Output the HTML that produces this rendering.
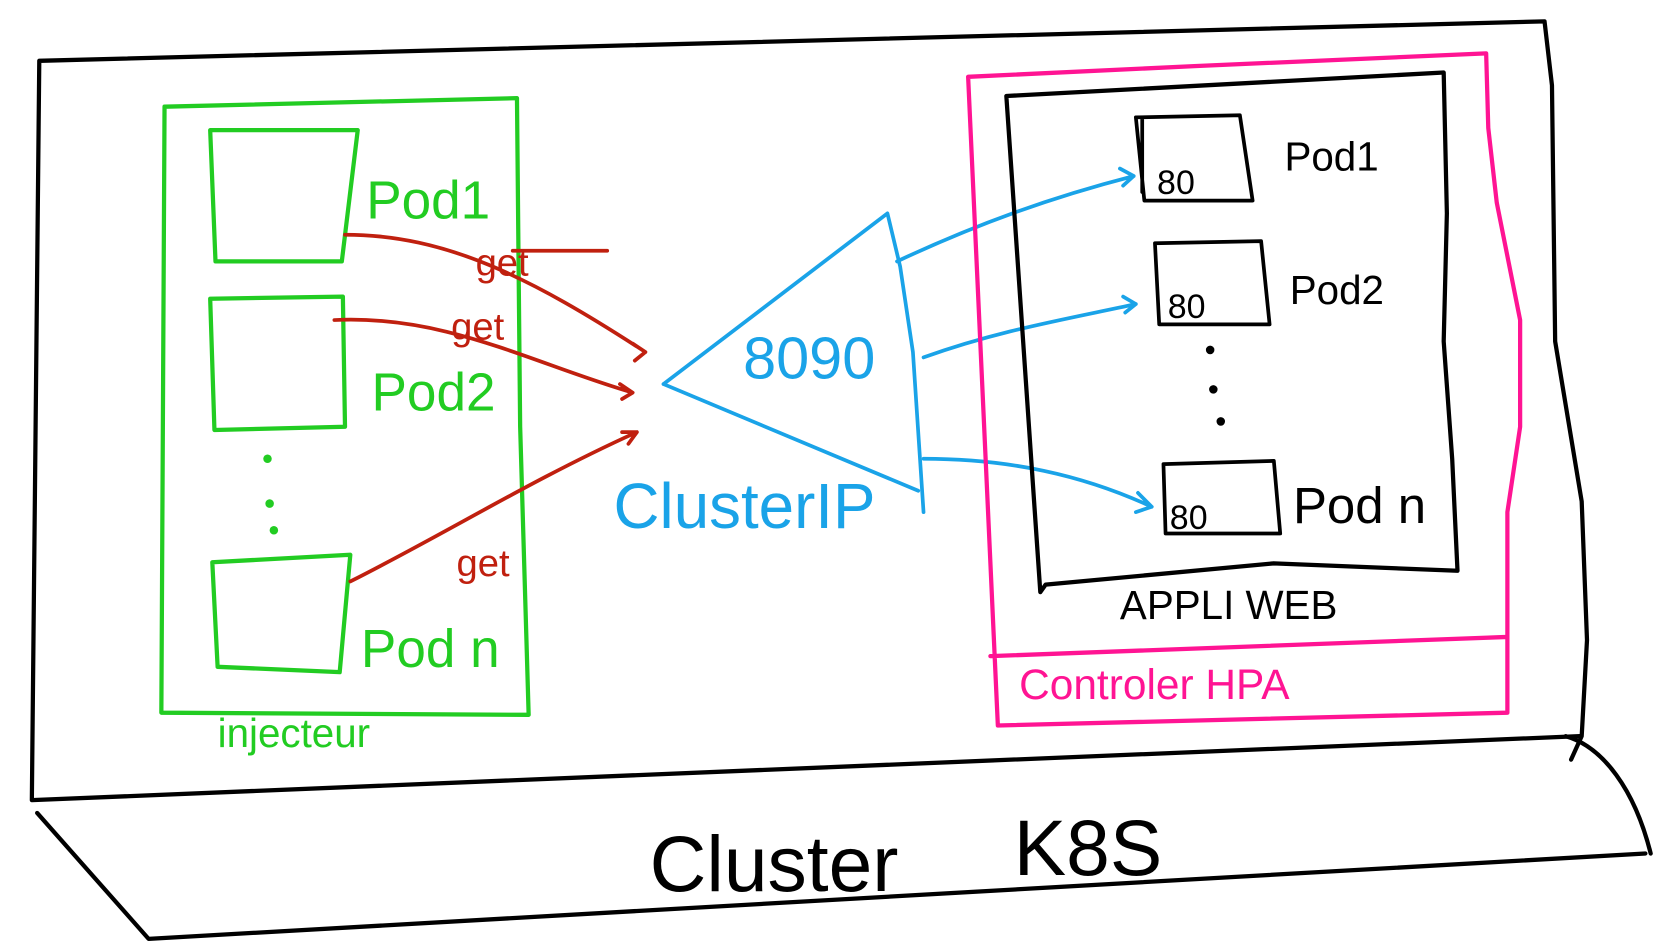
<!DOCTYPE html>
<html><head><meta charset="utf-8"><style>
html,body{margin:0;padding:0;background:#fff;width:1656px;height:941px;overflow:hidden}
svg{display:block}
text{font-family:"Liberation Sans",sans-serif}
</style></head><body>
<svg width="1656" height="941" viewBox="0 0 1560 882" preserveAspectRatio="none" xmlns="http://www.w3.org/2000/svg">
<g fill="none" stroke-linecap="round" stroke-linejoin="round">
<path d="M37,57 L1455,20 L1462,80 L1465,320 L1490,470 L1495,600 L1490,690 L1480,712 M1488,690 L30,750 L37,57" stroke="#000" stroke-width="4"/>
<path d="M35,762 L140,880 L1550,800 M1475,690 C1510,700 1540,740 1555,800" stroke="#000" stroke-width="4"/>
<path d="M155,100 L487,92 L490,400 L498,670 L152,668 Z" stroke="#22cc22" stroke-width="4"/>
<path d="M198,122 L337,122 L322,245 L203,245 Z M198,280 L323,278 L325,400 L202,403 Z M200,527 L330,520 L320,630 L205,625 Z" stroke="#22cc22" stroke-width="4"/>
<g stroke="#c0200f" stroke-width="3.5">
<path d="M325,220 C420,220 500,260 608,330 M596,322 L608,330 L598,338"/>
<path d="M483,235 L572,235"/>
<path d="M315,300 C420,295 500,340 596,368 M584,360 L596,368 L586,374"/>
<path d="M330,545 C420,500 500,450 600,405 M586,405 L600,405 L592,416"/>
</g>
<g stroke="#1aa3e8" stroke-width="3.5">
<path d="M625,360 L836,200 L848,250 L860,330 L870,480 M625,360 L865,460"/>
<path d="M845,245 C920,210 990,185 1068,165 M1055,158 L1068,165 L1058,174"/>
<path d="M870,335 C940,310 1000,300 1070,285 M1058,278 L1070,285 L1060,293"/>
<path d="M870,430 C950,430 1020,445 1085,475 M1072,462 L1085,475 L1070,480"/>
</g>
<path d="M912,72 L1125,62 L1400,50 L1402,120 L1410,190 L1432,300 L1432,400 L1420,480 L1420,668 L940,680 L912,72 M933,615 L1420,597" stroke="#ff1493" stroke-width="4"/>
<path d="M948,90 L1360,68 L1363,200 L1360,320 L1368,430 L1373,535 L1200,528 L985,548 L980,555 L948,90" stroke="#000" stroke-width="4"/>
<path d="M1070,110 L1168,108 L1180,188 L1078,188 Z M1076,112 L1076,180 M1088,228 L1188,226 L1196,304 L1092,304 Z M1096,435 L1200,432 L1206,500 L1098,500 Z" stroke="#000" stroke-width="3.5"/>
</g>
<g fill="#000"><circle cx="1140" cy="328" r="4"/><circle cx="1143" cy="365" r="4"/><circle cx="1150" cy="395" r="4"/></g>
<g fill="#22cc22"><circle cx="252" cy="430" r="4"/><circle cx="254" cy="472" r="4"/><circle cx="258" cy="497" r="4"/></g>
<g fill="#22cc22" font-size="50"><text x="345" y="205">Pod1</text><text x="350" y="385">Pod2</text><text x="340" y="625">Pod n</text><text x="205" y="700" font-size="38">injecteur</text></g>
<g fill="#c0200f" font-size="36"><text x="448" y="258">get</text><text x="425" y="318">get</text><text x="430" y="540">get</text></g>
<g fill="#1aa3e8"><text x="700" y="355" font-size="56">8090</text><text x="578" y="495" font-size="60">ClusterIP</text></g>
<g fill="#000" font-size="38"><text x="1090" y="182" font-size="32">80</text><text x="1100" y="298" font-size="32">80</text><text x="1102" y="496" font-size="32">80</text>
<text x="1210" y="160">Pod1</text><text x="1215" y="285">Pod2</text><text x="1218" y="490" font-size="48">Pod n</text>
<text x="1055" y="580">APPLI WEB</text>
<text x="612" y="835" font-size="74">Cluster</text><text x="955" y="820" font-size="74">K8S</text></g>
<text x="960" y="655" fill="#ff1493" font-size="40">Controler HPA</text>
</svg>
</body></html>
